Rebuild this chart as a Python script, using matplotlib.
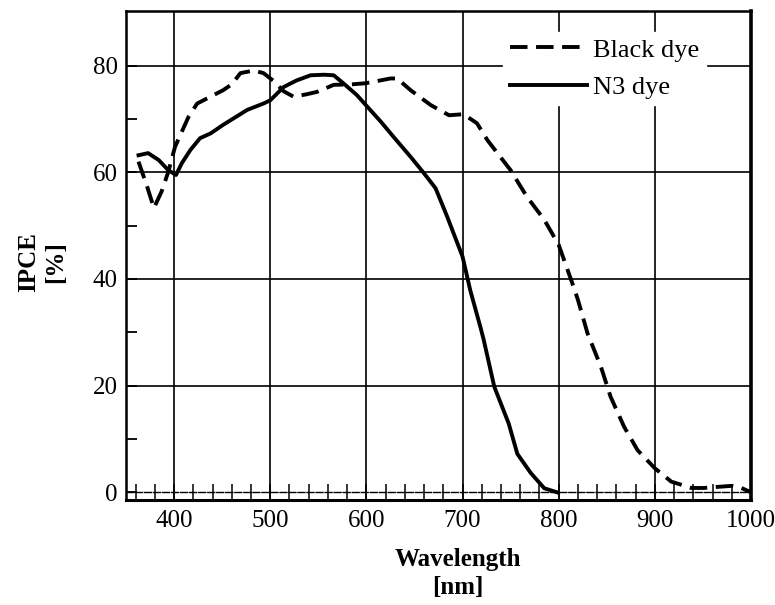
import numpy as np
import matplotlib.pyplot as plt

plt.rcParams['font.family'] = ['Liberation Serif', 'DejaVu Serif']

# Black dye (dashed)
black_x = [363, 372, 379, 387, 394, 401, 415, 424, 438, 451, 460, 469, 483, 493, 503,
           514, 524, 537, 549, 566, 585, 599, 608, 625, 632, 646, 667, 686, 701, 715,
           726, 738, 750, 767, 785, 800, 813, 820, 830, 844, 854, 868, 882, 900, 917,
           938, 951, 965, 980, 990, 1000]
black_y = [62.0, 57.3, 53.3, 56.4, 60.1, 64.8, 70.4, 72.9, 74.2, 75.4, 76.5, 78.6, 79.1, 78.6, 77.2,
           75.2, 74.2, 74.6, 75.1, 76.4, 76.5, 76.7, 77.0, 77.6, 77.6, 75.4, 72.6, 70.7, 70.9, 69.2,
           66.0, 63.2, 60.4, 55.4, 51.1, 46.4, 39.8, 36.1, 29.8, 23.5, 17.9, 12.3, 7.9, 4.5, 2.0,
           0.8, 0.8, 1.0, 1.2, 0.8, 0.0]

# N3 dye (solid)
n3_x = [363, 373, 384, 394, 402, 408, 417, 427, 438, 451, 476, 493, 500, 514, 527, 542,
        556, 566, 576, 590, 601, 615, 628, 646, 660, 672, 684, 700, 708, 719, 722, 733,
        748, 757, 771, 785, 798]
n3_y = [63.2, 63.6, 62.3, 60.4, 59.5, 61.7, 64.2, 66.4, 67.3, 68.9, 71.7, 72.9, 73.5, 76.0, 77.2, 78.2,
        78.3, 78.2, 76.7, 74.5, 72.3, 69.5, 66.7, 62.9, 59.8, 57.0, 51.7, 44.2, 37.9, 30.7, 28.6, 19.8,
        12.9, 7.2, 3.6, 0.75, 0.0]

x_major = [400, 500, 600, 700, 800, 900, 1000]
y_major = [0, 20, 40, 60, 80]

fig = plt.figure(figsize=(7.75, 6.05), dpi=100)
ax = fig.add_axes([0.1626, 0.1736, 0.8064, 0.8082])

ax.set_xlim(350, 1000)
ax.set_ylim(-1.45, 90.25)

# grid
for gx in x_major[:-1]:
    ax.axvline(gx, color='black', lw=1.2, zorder=1)
for gy in y_major[1:]:
    ax.axhline(gy, color='black', lw=1.2, zorder=1)

ax.plot(black_x, black_y, color='black', lw=2.8, ls=(0, (4.5, 2.2)), label='Black dye', zorder=3)
ax.plot(n3_x, n3_y, color='black', lw=2.8, label='N3 dye', zorder=3)

# bottom spine at y=0 (dashed) with ticks, plus solid frame line below
ax.spines['bottom'].set_position(('data', 0))
ax.spines['bottom'].set_linestyle((0, (5, 1.5)))
ax.spines['bottom'].set_linewidth(1.0)
ax.axhline(-1.45, color='black', lw=2.2, clip_on=False, zorder=4)
ax.spines['left'].set_linewidth(1.8)
ax.spines['top'].set_linewidth(1.8)
ax.spines['right'].set_linewidth(2.6)

ax.set_xticks(x_major)
ax.set_xticks(np.arange(360, 1000, 20), minor=True)
ax.set_yticks(y_major)
ax.set_yticks([10, 30, 50, 70], minor=True)
ax.tick_params(axis='x', which='both', direction='inout', length=11, width=1.1,
               labelsize=18, pad=7)
ax.tick_params(axis='y', which='both', direction='in', length=8, width=1.3,
               labelsize=18, pad=6)

ax.set_xlabel('Wavelength\n[nm]', fontsize=18, fontweight='bold', linespacing=1.3)
ax.xaxis.set_label_coords(0.531, -0.098, transform=ax.transAxes)
ax.xaxis.label.set_va('top')
ax.set_ylabel('IPCE\n[%]', fontsize=18, fontweight='bold', linespacing=1.2)
ax.yaxis.set_label_coords(-0.095, 0.487)

leg = ax.legend(loc='upper right', bbox_to_anchor=(0.928, 0.958), fontsize=19,
                frameon=True, fancybox=False, handlelength=2.9, handletextpad=0.25,
                borderpad=0.25, labelspacing=0.52, borderaxespad=0)
leg.get_frame().set_edgecolor('white')
leg.get_frame().set_facecolor('white')
leg.get_frame().set_alpha(1)
leg.set_zorder(5)

fig.savefig('out.png', dpi=100)
